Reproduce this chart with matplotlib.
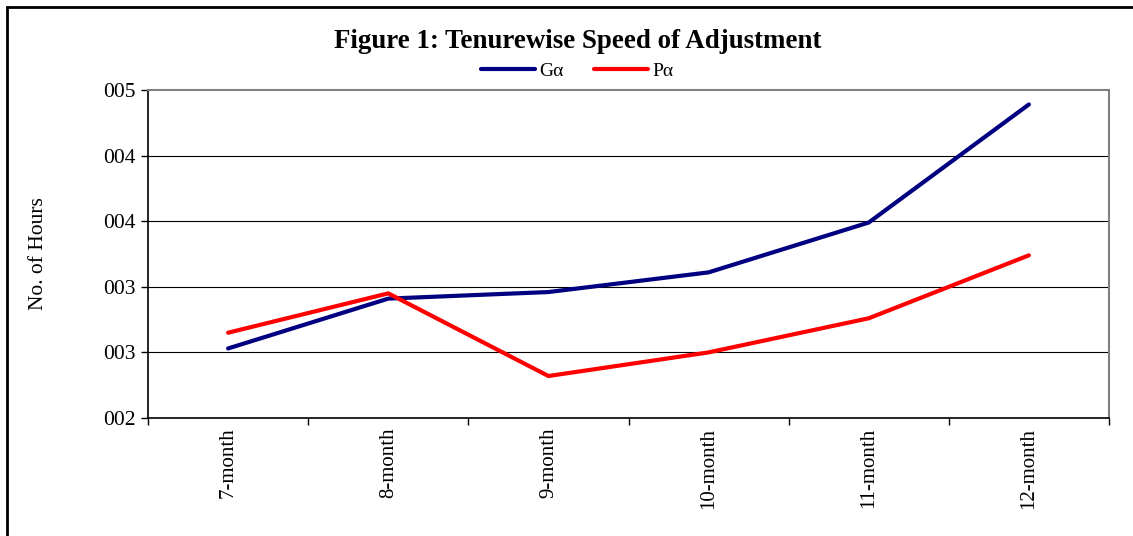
import matplotlib
matplotlib.use("Agg")
import matplotlib.pyplot as plt
from matplotlib.patches import Rectangle

plt.rcParams['font.family'] = ['Liberation Serif', 'DejaVu Serif']

months = ['7-month', '8-month', '9-month', '10-month', '11-month', '12-month']
g_alpha = [2.53, 2.91, 2.96, 3.11, 3.49, 4.39]
p_alpha = [2.65, 2.95, 2.32, 2.50, 2.76, 3.24]
yticks = [2.0, 2.5, 3.0, 3.5, 4.0, 4.5]
ytick_labels = ['002', '003', '003', '004', '004', '005']

fig = plt.figure(figsize=(11.33, 5.36), dpi=100)
W, H = 1133.0, 536.0
ax = fig.add_axes([148 / W, 1 - 418 / H, (1109 - 148) / W, (418 - 90) / H])

# outer chart frame (cropped at right and bottom)
fig.patches.append(Rectangle((7 / W, -0.1), 1.2, 1 - 7 / H + 0.1, transform=fig.transFigure,
                             fill=False, edgecolor='black', linewidth=2))

x = list(range(len(months)))
ax.plot(x, g_alpha, color='#000080', lw=3, label='G\u03b1', solid_capstyle='round')
ax.plot(x, p_alpha, color='#ff0000', lw=3, label='P\u03b1', solid_capstyle='round')

ax.set_xlim(-0.5, len(months) - 0.5)
ax.set_ylim(2.0, 4.5)
ax.set_yticks(yticks)
ax.set_yticklabels(ytick_labels, fontsize=15.5)
ax.set_xticks(x)
ax.set_xticklabels(months, rotation=90, fontsize=15)
ax.set_xticks([i - 0.5 for i in range(len(months) + 1)], minor=True)
ax.tick_params(axis='x', which='major', length=0, pad=7)
ax.tick_params(axis='x', which='minor', length=5, width=1, direction='out')
ax.tick_params(axis='y', length=5, width=1, direction='out', pad=4)

for v in yticks[1:-1]:
    ax.axhline(v, color='black', lw=0.8, zorder=0)

ax.spines['top'].set_color('#808080')
ax.spines['right'].set_color('#808080')
ax.spines['top'].set_linewidth(1.5)
ax.spines['right'].set_linewidth(1.5)
ax.spines['left'].set_linewidth(1.2)
ax.spines['bottom'].set_linewidth(1.2)

ax.set_ylabel('No. of Hours', fontsize=15.5)
ax.yaxis.set_label_coords(-(148 - 48) / (1109 - 148), 0.5)

fig.text(578 / W, 1 - 41 / H, 'Figure 1: Tenurewise Speed of Adjustment', ha='center', va='center',
         fontsize=19.4, fontweight='bold')
fig.legend(loc='center', bbox_to_anchor=(577 / W, 1 - 71 / H), ncol=2, frameon=False, fontsize=14,
           handlelength=2.8, handletextpad=0.2, columnspacing=1.55)

fig.savefig('out.png', dpi=100)
